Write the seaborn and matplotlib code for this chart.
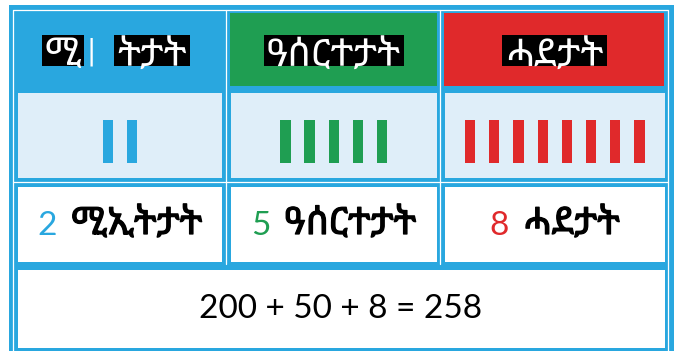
import matplotlib
matplotlib.use("Agg")
import matplotlib.pyplot as plt
import matplotlib.patheffects as pe
import numpy as np
import seaborn as sns
from matplotlib.patches import Rectangle

# ---- data ----
header_parts = [["ሚ", "ትታት"], ["ዓሰርተታት"], ["ሓደታት"]]
count_words = ["ሚኢትታት", "ዓሰርተታት", "ሓደታት"]
digits = [2, 5, 8]
place_values = [100, 10, 1]
colors = ["#29A7DF", "#1F9E52", "#E0292B"]

sns.set_style("white")
ETH = ["Noto Sans Ethiopic", "Abyssinica SIL", "FreeSerif", "DejaVu Sans"]
plt.rcParams["font.family"] = ETH

fig = plt.figure(figsize=(6.74, 3.51), dpi=100)
ax = fig.add_axes([0, 0, 1, 1])
ax.set_xlim(0, 674)
ax.set_ylim(351, 0)
ax.axis("off")

BLUE = colors[0]
LIGHT = "#DFEEF9"

# frame
ax.add_patch(Rectangle((9, 5), 665, 346, color=BLUE, lw=0, zorder=0))
lw = 0.9
ax.plot([12.5, 12.5], [9.5, 351], color="white", lw=lw, zorder=1)
ax.plot([667.5, 667.5], [9.5, 351], color="white", lw=lw, zorder=1)
ax.plot([12.5, 667.5], [9.5, 9.5], color="white", lw=lw, zorder=1)
ax.plot([12.5, 667.5], [181.5, 181.5], color="white", lw=lw, zorder=1)
for xl in (225.5, 439.5):
    ax.plot([xl, xl], [9.5, 264], color="white", lw=lw, zorder=1)

cells_x = [(18, 222), (231, 436.5), (445, 664.5)]
header_x = [(13, 225), (230, 437), (444, 664)]

# header
for i, (x0, x1) in enumerate(header_x):
    if i > 0:
        ax.add_patch(Rectangle((x0, 13), x1 - x0, 73, color=colors[i], lw=0, zorder=1))

fig.canvas.draw()
r = fig.canvas.get_renderer()

hdr_items = [(63, header_parts[0][0]), (152, header_parts[0][1]),
             (334, header_parts[1][0]), (554.5, header_parts[2][0])]
for xc, s in hdr_items:
    t = ax.text(xc, 55.5, s, ha="center", va="center", color="white",
                fontsize=27.5, zorder=4)
    w = t.get_window_extent(r).width
    ax.add_patch(Rectangle((xc - w / 2 - 3, 35), w + 6, 30.5, color="black",
                           lw=0, zorder=3))
ax.text(91, 52, "|", ha="center", va="center", color="white", fontsize=20,
        family="DejaVu Sans", zorder=3)

# row 2: tally sticks
for i, (x0, x1) in enumerate(cells_x):
    ax.add_patch(Rectangle((x0, 93), x1 - x0, 85, color=LIGHT, lw=0, zorder=1))
    c = (x0 + x1) / 2
    n = digits[i]
    xs = c + (np.arange(n) - (n - 1) / 2) * 24.2
    ax.bar(xs, 43, bottom=120, width=10.3, color=colors[i], lw=0, zorder=2)

# row 3
for i, (x0, x1) in enumerate(cells_x):
    ax.add_patch(Rectangle((x0, 187), x1 - x0, 75, color="white", lw=0, zorder=1))
    t1 = ax.text(0, 226, str(digits[i]), color=colors[i], fontsize=24,
                 family="Lato", va="center", ha="left", zorder=3)
    t2 = ax.text(0, 224, count_words[i], color="black", fontsize=27,
                 va="center", ha="left", zorder=3,
                 path_effects=[pe.withStroke(linewidth=0.9, foreground="black")])
    w1 = t1.get_window_extent(r).width
    w2 = t2.get_window_extent(r).width
    gap = 14
    total = w1 + gap + w2
    c = (x0 + x1) / 2
    t1.set_x(c - total / 2)
    t2.set_x(c - total / 2 + w1 + gap)

# row 4
ax.add_patch(Rectangle((18, 270), 646.5, 77.5, color="white", lw=0, zorder=1))
vals = [d * p for d, p in zip(digits, place_values)]
eq = " + ".join(str(v) for v in vals) + " = " + str(sum(vals))
ax.text(341, 309, eq, color="black", fontsize=24, family="Lato",
        ha="center", va="center", zorder=3)

fig.savefig("out.png", dpi=100)
